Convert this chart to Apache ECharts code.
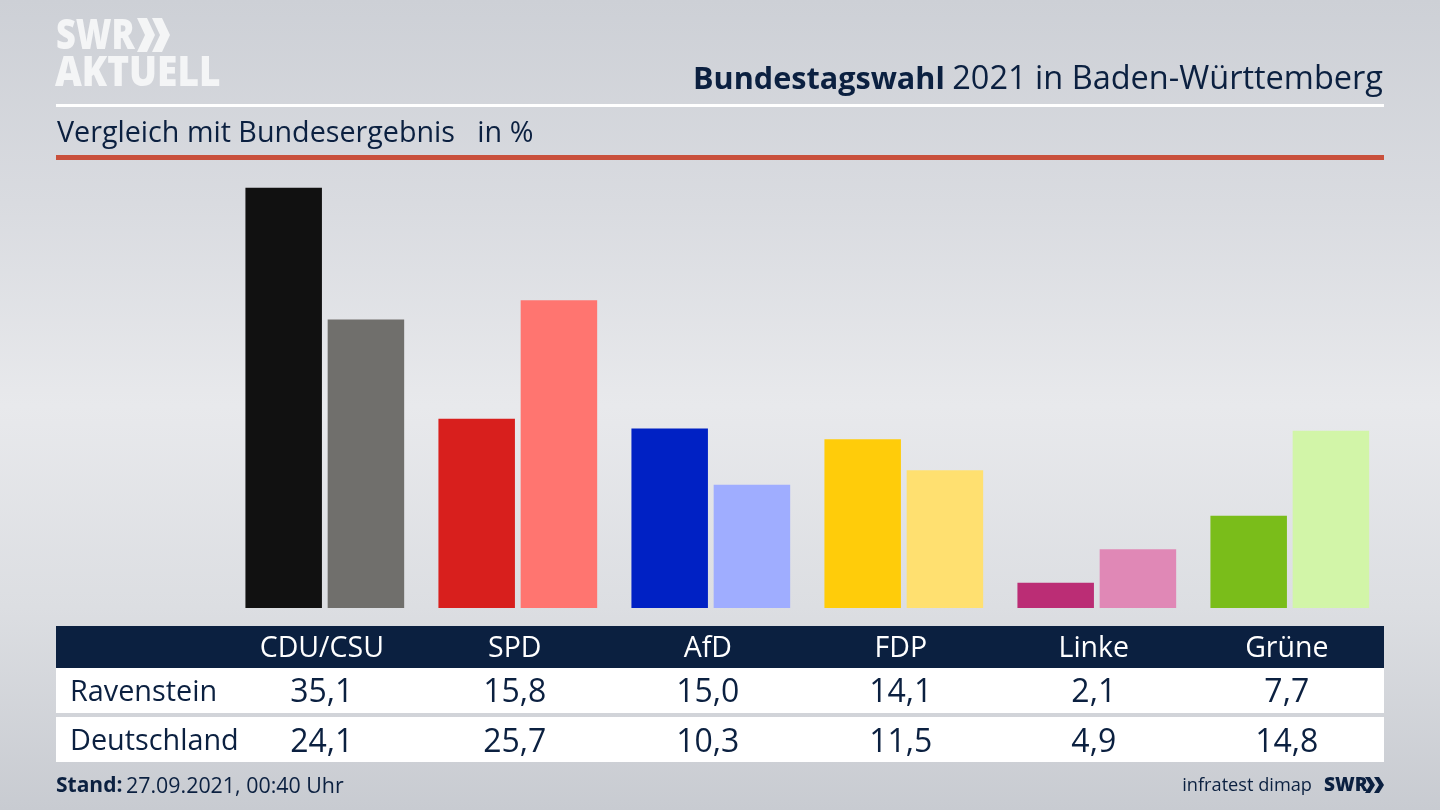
<!DOCTYPE html>
<html><head><meta charset="utf-8">
<style>html,body{margin:0;padding:0;width:1440px;height:810px;overflow:hidden}#c{width:1440px;height:810px}</style>
<script src="https://cdn.jsdelivr.net/npm/echarts@6/dist/echarts.min.js"></script>
</head><body><div id="c"></div>
<script>
const parties = ['CDU/CSU','SPD','AfD','FDP','Linke','Grüne'];
const ravenstein = [35.1,15.8,15.0,14.1,2.1,7.7];
const deutschland = [24.1,25.7,10.3,11.5,4.9,14.8];
const colorsA = ['#111111','#d81f1d','#0021c4','#ffcc0a','#bb2d75','#7abd1a'];
const colorsB = ['#706f6c','#ff7570','#9fadff','#ffe070','#e088b6','#d2f5a8'];
const rowNames = ['Ravenstein','Deutschland'];
const NAVY='#0b2040', FONT='"Open Sans","Noto Sans",sans-serif';
const fmt=v=>v.toFixed(1).replace('.',',');
const chart=echarts.init(document.getElementById('c'),null,{renderer:'canvas'});
const rect=(x,y,w,h,fill)=>({type:'rect',z:-1,shape:{x,y,width:w,height:h},style:{fill}});
const text=(x,y,t,size,fill,weight,align,scaleX)=>({type:'text',x,y,z:5,scaleX:scaleX||1,style:{text:t,font:`${weight||400} ${size}px ${FONT}`,fill,textAlign:align||'left',textVerticalAlign:'middle'}});
const chev=(x,y,w,h,d,fill)=>({type:'polygon',z:5,shape:{points:[[x,y],[x+d,y],[x+d+w,y+h/2],[x+d,y+h],[x,y+h],[x+w,y+h/2]]},style:{fill}});
chart.setOption({
  animation:false,
  backgroundColor:{type:'linear',x:0,y:0,x2:0,y2:1,colorStops:[
    {offset:0,color:'#cdd0d6'},{offset:.25,color:'#d9dbe0'},{offset:.5,color:'#e8e9ec'},{offset:.75,color:'#dcdee2'},{offset:1,color:'#c8cbd1'}]},
  grid:{left:228.3,width:1158,top:177,height:431},
  xAxis:{type:'category',data:parties,axisLine:{show:false},axisTick:{show:false},
    axisLabel:{interval:0,margin:21,padding:[0,6,0,0],fontFamily:FONT,
      formatter:(n,i)=>`{h|${n}}\n{a|${fmt(ravenstein[i])}}\n{b|${fmt(deutschland[i])}}`,
      rich:{h:{fontFamily:FONT,fontSize:28.5,color:'#ffffff',lineHeight:40,height:40},
            a:{fontFamily:FONT,fontSize:32,color:NAVY,lineHeight:48,height:48},
            b:{fontFamily:FONT,fontSize:32,color:NAVY,lineHeight:52,height:52}}}},
  yAxis:{type:'value',min:0,max:36,show:false,splitLine:{show:false}},
  series:[
    {name:rowNames[0],type:'bar',data:ravenstein,barWidth:76.5,barGap:'7.5%',itemStyle:{color:p=>colorsA[p.dataIndex]}},
    {name:rowNames[1],type:'bar',data:deutschland,barWidth:76.5,barGap:'7.5%',itemStyle:{color:p=>colorsB[p.dataIndex]}}
  ],
  graphic:[
    rect(56,104,1328,3,'#ffffff'),
    rect(56,155,1328,5,'#c9503c'),
    rect(56,626,1328,42,NAVY),
    rect(56,668,1328,45,'#ffffff'),
    rect(56,717,1328,45,'#ffffff'),
    text(56,37,'SWR',43,'#f4f5f6',800,'left',0.8),
    chev(137,18,8,34,10,'#f4f5f6'),
    chev(152,18,8,34,10,'#f4f5f6'),
    text(55,73.5,'AKTUELL',43,'#f4f5f6',800,'left',0.86),
    text(693,80,'Bundestagswahl',30.6,NAVY,700),
    text(1383,80,'2021 in Baden-Württemberg',32.5,NAVY,400,'right'),
    text(57,134,'Vergleich mit Bundesergebnis   in %',28.7,NAVY,400),
    text(70,693,rowNames[0],28.8,NAVY,400),
    text(70,742,rowNames[1],28.8,NAVY,400),
    text(56,786.5,'Stand:',21,NAVY,700),
    text(126,786.5,'27.09.2021, 00:40 Uhr',21.4,NAVY,400),
    text(1312,786,'infratest dimap',18.2,NAVY,400,'right'),
    text(1324,785.5,'SWR',19,NAVY,800),
    chev(1365,777,5,16,5,NAVY),
    chev(1374,777,5,16,5,NAVY)
  ]
});
</script></body></html>
